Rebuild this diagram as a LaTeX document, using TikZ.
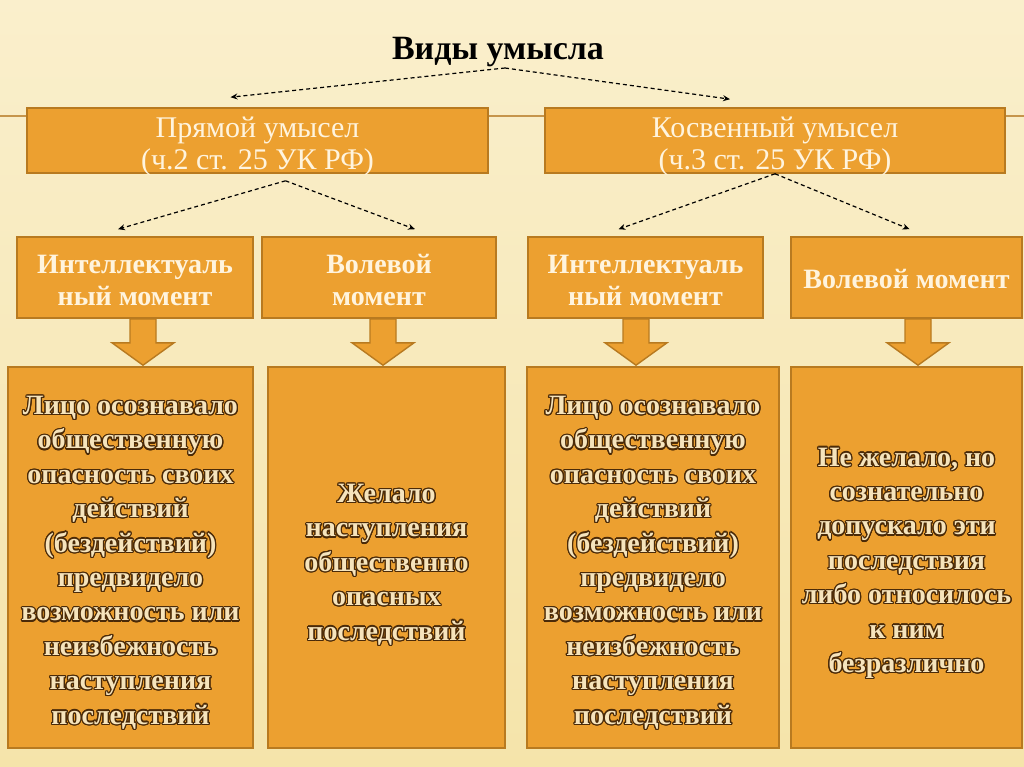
\documentclass[tikz,border=0pt]{standalone}
\usepackage{fontspec}
\setmainfont{Liberation Serif}
\usepackage[copies]{contour}
\usetikzlibrary{arrows.meta,calc}
\definecolor{SlideBg}{RGB}{250,239,204}
\definecolor{SlideBgLow}{RGB}{245,228,170}
\definecolor{BoxFill}{RGB}{236,160,48}
\definecolor{BoxLine}{RGB}{184,122,32}
\definecolor{BoxText}{RGB}{255,244,222}
\definecolor{GlyphFill}{RGB}{246,228,188}
\definecolor{GlyphEdge}{RGB}{74,42,8}
\contourlength{1.2pt}
\contournumber{16}
\newcommand{\ol}[1]{\contour{GlyphEdge}{#1}}
% lower a block of centred lines by #1 while keeping its size
\newcommand{\lowtext}[2]{\raisebox{-#1}[\height][\depth]{\begin{tabular}{@{}c@{}}#2\end{tabular}}}
\tikzset{
  headbox/.style={draw=BoxLine,line width=1.6pt,fill=BoxFill,text=BoxText,
    inner sep=0pt,minimum height=65pt,
    font=\fontsize{30}{32}\selectfont},
  momentbox/.style={draw=BoxLine,line width=1.6pt,fill=BoxFill,text=BoxText,
    inner sep=0pt,minimum height=81pt,
    font=\bfseries\fontsize{28}{32}\selectfont},
  textbox/.style={draw=BoxLine,line width=1.6pt,fill=BoxFill,text=GlyphFill,
    inner sep=0pt,minimum height=381pt,
    font=\bfseries\fontsize{28}{34.4}\selectfont},
  dasharrow/.style={-{Stealth[length=7pt,width=6pt]},line width=1.2pt,
    dash pattern=on 4pt off 3pt},
  fatarrow/.style={fill=BoxFill,draw=BoxLine,line width=1.4pt,line join=miter}
}
% block arrow: x position, upper node, lower node
\newcommand{\fatarr}[3]{%
  \filldraw[fatarrow] ($(#1,0 |- #2.south)+(-13,0)$) -- ($(#1,0 |- #2.south)+(13,0)$)
    -- ($(#1,0 |- #2.south)+(13,24)$) -- ($(#1,0 |- #2.south)+(31,24)$)
    -- ($(#1,0 |- #3.north)+(0,-1)$)
    -- ($(#1,0 |- #2.south)+(-31,24)$) -- ($(#1,0 |- #2.south)+(-13,24)$) -- cycle;}
\begin{document}
\begin{tikzpicture}[x=1pt,y=-1pt]
  \useasboundingbox (0,0) rectangle (1024,767);
  \shade[top color=SlideBg,bottom color=SlideBgLow] (0,0) rectangle (1024,767);
  \draw[BoxLine!80,line width=2.5pt] (0,116) -- (1024,116);

  \node[font=\bfseries\fontsize{34}{36}\selectfont,inner sep=2pt] (title) at (498,52) {Виды умысла};

  \node[headbox,minimum width=461pt] (pryam) at (257.5,140.5) {\lowtext{7pt}{Прямой умысел\\(ч.2 ст. 25 УК РФ)}};
  \node[headbox,minimum width=460pt] (kosv) at (775,140.5) {\lowtext{7pt}{Косвенный умысел\\(ч.3 ст. 25 УК РФ)}};

  \node[momentbox,minimum width=236pt] (intA) at (135,277.5) {\lowtext{6pt}{Интеллектуаль\\ный момент}};
  \node[momentbox,minimum width=234pt] (volA) at (379,277.5) {\lowtext{6pt}{Волевой\\момент}};
  \node[momentbox,minimum width=235pt] (intB) at (645.5,277.5) {\lowtext{6pt}{Интеллектуаль\\ный момент}};
  \node[momentbox,minimum width=231pt] (volB) at (906.5,277.5) {\lowtext{5pt}{Волевой момент}};

  \node[textbox,minimum width=245pt] (descA) at (130.5,557.5)
    {\lowtext{5pt}{\ol{Лицо осознавало}\\\ol{общественную}\\\ol{опасность своих}\\\ol{действий}\\\ol{(бездействий)}\\\ol{предвидело}\\\ol{возможность или}\\\ol{неизбежность}\\\ol{наступления}\\\ol{последствий}}};
  \node[textbox,minimum width=237pt] (descB) at (386.5,557.5)
    {\lowtext{7pt}{\ol{Желало}\\\ol{наступления}\\\ol{общественно}\\\ol{опасных}\\\ol{последствий}}};
  \node[textbox,minimum width=252pt] (descC) at (653,557.5)
    {\lowtext{5pt}{\ol{Лицо осознавало}\\\ol{общественную}\\\ol{опасность своих}\\\ol{действий}\\\ol{(бездействий)}\\\ol{предвидело}\\\ol{возможность или}\\\ol{неизбежность}\\\ol{наступления}\\\ol{последствий}}};
  \node[textbox,minimum width=231pt] (descD) at (906.5,557.5)
    {\lowtext{5pt}{\ol{Не желало, но}\\\ol{сознательно}\\\ol{допускало эти}\\\ol{последствия}\\\ol{либо относилось}\\\ol{к ним}\\\ol{безразлично}}};

  % dashed links
  \draw[dasharrow] ($(title.south)+(7,-1)$) -- ($(pryam.north)+(-27,-10)$);
  \draw[dasharrow] ($(title.south)+(7,-1)$) -- ($(kosv.north)+(-45,-8)$);
  \draw[dasharrow] ($(pryam.south)+(28,7)$) -- ($(intA.north)+(-17,-7)$);
  \draw[dasharrow] ($(pryam.south)+(28,7)$) -- ($(volA.north)+(36,-7)$);
  \draw[dasharrow] (kosv.south) -- ($(intB.north)+(-27,-7)$);
  \draw[dasharrow] (kosv.south) -- ($(volB.north)+(3,-7)$);

  % block arrows
  \fatarr{143}{intA}{descA}
  \fatarr{383}{volA}{descB}
  \fatarr{636}{intB}{descC}
  \fatarr{918}{volB}{descD}
\end{tikzpicture}
\end{document}
